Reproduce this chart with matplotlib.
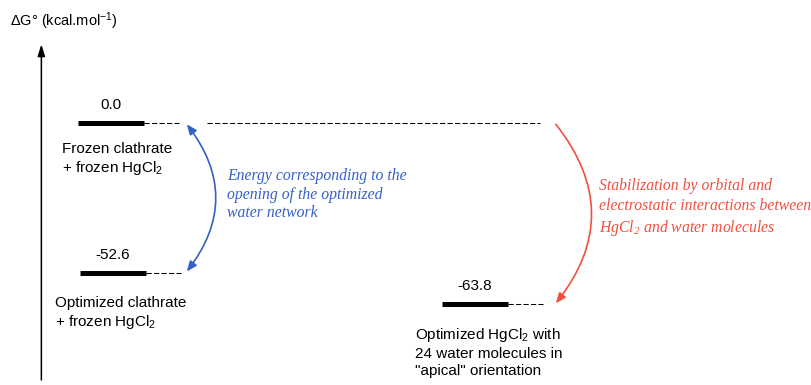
import matplotlib
matplotlib.use("Agg")
import matplotlib.pyplot as plt
from matplotlib.patches import FancyArrowPatch

plt.rcParams['font.family'] = ['Liberation Sans', 'DejaVu Sans']
plt.rcParams['mathtext.default'] = 'regular'

# energies (kcal/mol) of the three states
levels = [0.0, -52.6, -63.8]
level_labels = ["0.0", "-52.6", "-63.8"]
state_names = ["Frozen clathrate\n+ frozen HgCl$_2$",
               "Optimized clathrate\n+ frozen HgCl$_2$",
               "Optimized HgCl$_2$ with\n24 water molecules in\n\"apical\" orientation"]
blue_note = "Energy corresponding to the\nopening of the optimized\nwater network"
red_note = ("Stabilization by orbital and\nelectrostatic interactions between\n"
            "HgCl$_2$ and water molecules")
ylabel = "ΔG° (kcal.mol$^{-1}$)"

# layout (x in pixel-like units of an 811 px wide canvas)
bar_x = [78, 80, 442]
bar_w = 66
dash_w = 35
name_x = [62, 55, 415]
name_dy = [-19, -23, -22]
blue_col = '#3560c8'
red_col = '#f0503f'

fig = plt.figure(figsize=(8.11, 3.85), dpi=100)
ax = fig.add_axes([0, 0, 1, 1])
ax.set_xlim(0, 811)
ax.set_ylim(-92.2, 43.4)
ax.axis('off')

# vertical energy axis
ax.annotate("", xy=(0.051, 0.885), xytext=(0.051, 0.013),
            xycoords='axes fraction',
            arrowprops=dict(arrowstyle='-|>,head_length=0.7,head_width=0.22',
                            color='black', lw=1.1, shrinkA=0, shrinkB=0))
ax.text(0.012, 0.945, ylabel, transform=ax.transAxes, fontsize=10.5,
        va='center', ha='left')

for i, e in enumerate(levels):
    x0 = bar_x[i]
    ax.plot([x0, x0 + bar_w], [e, e], color='black', lw=3.6,
            solid_capstyle='butt')
    ax.plot([x0 + bar_w, x0 + bar_w + dash_w], [e, e], color='black',
            lw=0.75, dashes=(5, 2.2))
    ax.annotate(level_labels[i], xy=(x0 + bar_w / 2, e),
                xytext=(0, 14), textcoords='offset pixels',
                ha='center', va='baseline', fontsize=11)
    ax.annotate(state_names[i], xy=(name_x[i], e),
                xytext=(0, name_dy[i]), textcoords='offset pixels',
                ha='left', va='top', fontsize=11, linespacing=1.25)

# long dashed reference line at the frozen level
ax.plot([207, 540], [levels[0], levels[0]], color='black', lw=0.75,
        dashes=(5, 2.2))

# blue double arrow between the two clathrate levels
blue = FancyArrowPatch((186, levels[0]), (186, levels[1]),
                       connectionstyle='arc3,rad=-0.39',
                       arrowstyle='<|-|>,head_length=6,head_width=2.5',
                       color=blue_col, lw=1.2, shrinkA=1, shrinkB=1)
ax.add_patch(blue)
ax.annotate(blue_note, xy=(227, levels[0]), xytext=(0, -94),
            textcoords='offset pixels', ha='left', va='baseline',
            fontsize=11.3, family='Liberation Serif', style='italic',
            color=blue_col, linespacing=1.2)

# red arrow from the frozen level down to the optimized complex
red = FancyArrowPatch((555, levels[0]), (555, levels[2]),
                      connectionstyle='arc3,rad=-0.4',
                      arrowstyle='-|>,head_length=6,head_width=2.5',
                      color=red_col, lw=1.2, shrinkA=1, shrinkB=1)
ax.add_patch(red)
ax.annotate(red_note, xy=(599, levels[0]), xytext=(0, -109),
            textcoords='offset pixels', ha='left', va='baseline',
            fontsize=11.3, family='Liberation Serif', style='italic',
            color=red_col, linespacing=1.32)

fig.savefig("out.png", dpi=100)
